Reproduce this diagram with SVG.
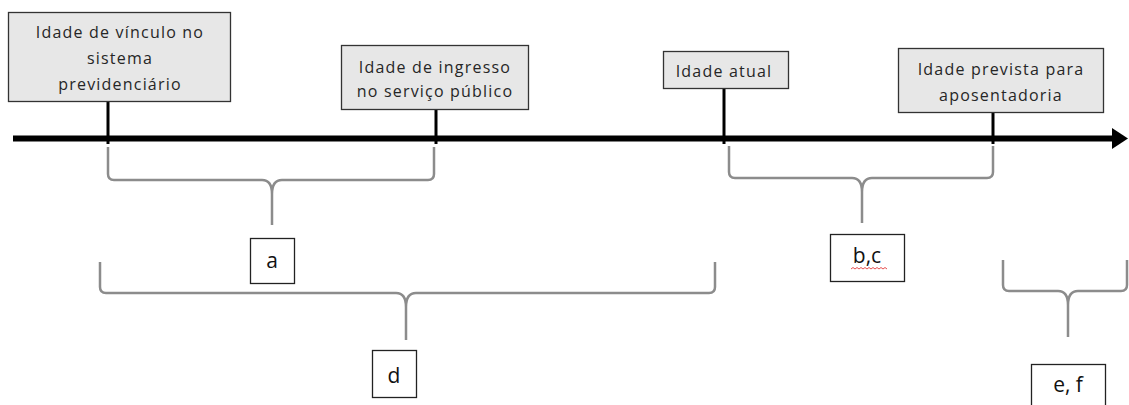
<svg xmlns="http://www.w3.org/2000/svg" width="1129" height="405" viewBox="0 0 1129 405">
<style>
.box{fill:#e7e7e7;stroke:#333;stroke-width:1.3}
.lbl{fill:#fff;stroke:#222;stroke-width:1.3}
.t{font-family:"Open Sans","Noto Sans","DejaVu Sans",sans-serif;font-size:16px;letter-spacing:1.2px;fill:#262626;text-anchor:middle}
.l{font-family:"Open Sans","Noto Sans","DejaVu Sans",sans-serif;font-size:21px;fill:#111;text-anchor:middle}
.tick{stroke:#000;stroke-width:3;fill:none}
.brace{stroke:#8c8c8c;stroke-width:2.5;fill:none;stroke-linejoin:round}
</style>
<rect width="1129" height="405" fill="#fff"/>
<g id="connectors">
<line x1="13" y1="138.5" x2="1113" y2="138.5" stroke="#000" stroke-width="6"/>
<polygon points="1112,128 1128,138.5 1112,149" fill="#000"/>
<line class="tick" x1="108" y1="102" x2="108" y2="144"/>
<line class="tick" x1="436" y1="102" x2="436" y2="144"/>
<line class="tick" x1="724" y1="82" x2="724" y2="144"/>
<line class="tick" x1="993" y1="102" x2="993" y2="144"/>
<path class="brace" d="M108 147 L108 174 Q108 180 114 180 L262 180 Q272 180 272 194 L272 225 M434 147 L434 174 Q434 180 428 180 L282 180 Q272 180 272 194"/>
<path class="brace" d="M729 146 L729 172 Q729 178 735 178 L852 178 Q862 178 862 192 L862 223 M993 146 L993 172 Q993 178 987 178 L872 178 Q862 178 862 192"/>
<path class="brace" d="M100 262 L100 287 Q100 293 106 293 L396 293 Q406 293 406 307 L406 340 M715 262 L715 287 Q715 293 709 293 L416 293 Q406 293 406 307"/>
<path class="brace" d="M1003 260 L1003 285 Q1003 291 1009 291 L1058 291 Q1068 291 1068 305 L1068 337 M1127 260 L1127 285 Q1127 291 1121 291 L1078 291 Q1068 291 1068 305"/>
</g>
<g id="node-vinculo">
<rect class="box" x="8.5" y="12.5" width="222" height="89"/>
<text class="t" x="120" y="38">Idade de vínculo no</text>
<text class="t" x="120" y="64">sistema</text>
<text class="t" x="120" y="90">previdenciário</text>
</g>
<g id="node-ingresso">
<rect class="box" x="341.5" y="45.5" width="187" height="64"/>
<text class="t" x="435" y="73">Idade de ingresso</text>
<text class="t" x="435" y="97">no serviço público</text>
</g>
<g id="node-atual">
<rect class="box" x="663.5" y="51.5" width="125" height="37"/>
<text class="t" x="724" y="77">Idade atual</text>
</g>
<g id="node-prevista">
<rect class="box" x="898.5" y="48.5" width="205" height="64"/>
<text class="t" x="1001" y="75">Idade prevista para</text>
<text class="t" x="1001" y="101">aposentadoria</text>
</g>
<g id="label-a">
<rect class="lbl" x="250.5" y="238.5" width="44" height="45"/>
<text class="l" x="272" y="268">a</text>
</g>
<g id="label-bc">
<rect class="lbl" x="830.5" y="234.5" width="74" height="47"/>
<text class="l" x="867" y="263">b,c</text>
<path d="M851 269 l2 -1.5 l2 1.5 l2 -1.5 l2 1.5 l2 -1.5 l2 1.5 l2 -1.5 l2 1.5 l2 -1.5 l2 1.5 l2 -1.5 l2 1.5 l2 -1.5 l2 1.5 l2 -1.5 l2 1.5 l2 -1.5 l2 1.5" fill="none" stroke="#e23c3c" stroke-width="0.9"/>
</g>
<g id="label-d">
<rect class="lbl" x="372.5" y="350.5" width="44" height="47"/>
<text class="l" x="394" y="383">d</text>
</g>
<g id="label-ef">
<rect class="lbl" x="1031.5" y="364.5" width="74" height="50"/>
<text class="l" x="1068" y="392">e, f</text>
</g>
</svg>
